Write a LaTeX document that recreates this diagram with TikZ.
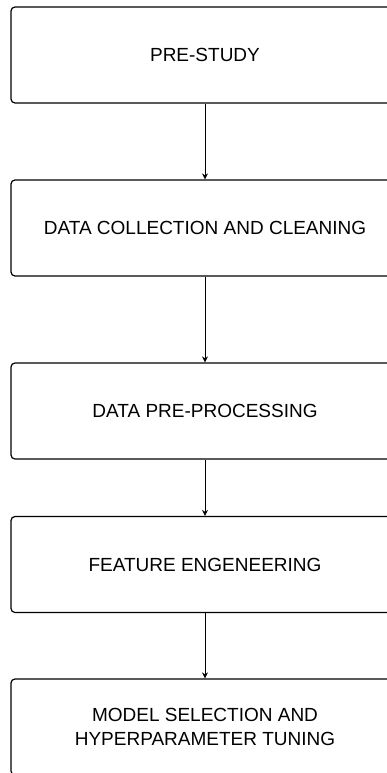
\documentclass[tikz,border=0pt]{standalone}
\usepackage{fontspec}
\setmainfont{Liberation Sans}
\usetikzlibrary{arrows.meta}
\begin{document}
\begin{tikzpicture}[x=1pt,y=-1pt,
  stage/.style={draw=black, line width=1.2pt, rounded corners=4pt, minimum width=388pt, minimum height=96pt, align=center, font=\fontsize{19}{24}\selectfont, inner sep=0pt, text=black},
  flow/.style={draw=black, line width=0.7pt, -{Stealth[length=6pt,width=6pt]}}]
\useasboundingbox (0,0) rectangle (387,773);
\clip (0,0) rectangle (387,773);
\node[stage] (s1) at (205,55) {PRE-STUDY};
\node[stage] (s2) at (205,228) {DATA COLLECTION AND CLEANING};
\node[stage] (s3) at (205,411) {DATA PRE-PROCESSING};
\node[stage] (s4) at (205,564.5) {FEATURE ENGENEERING};
\node[stage] (s5) at (205,727) {MODEL SELECTION AND\\HYPERPARAMETER TUNING};
\draw[flow] (s1) -- (s2);
\draw[flow] (s2) -- (s3);
\draw[flow] (s3) -- (s4);
\draw[flow] (s4) -- (s5);
\end{tikzpicture}
\end{document}
